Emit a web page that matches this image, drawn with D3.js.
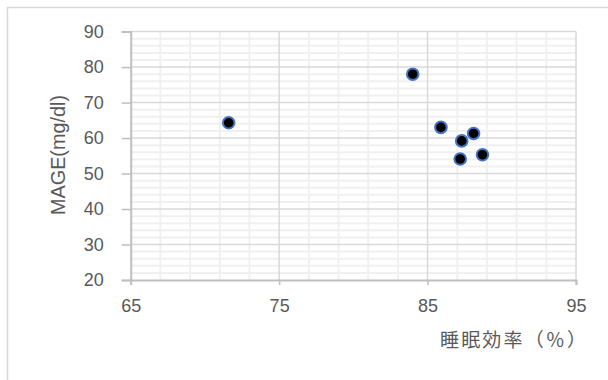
<!DOCTYPE html>
<html><head><meta charset="utf-8">
<script src="https://cdn.jsdelivr.net/npm/d3@7"></script>
<style>body{margin:0;background:#fff;}svg{display:block;}</style>
</head><body>
<svg id="c" width="608" height="380"></svg>
<script>
const sleepEff = [71.6, 84.0, 85.9, 87.3, 88.1, 87.2, 88.7];
const mageVals = [64.3, 78.0, 63.0, 59.2, 61.3, 54.1, 55.3];
const xTicks = [65, 75, 85, 95];
const yTicks = [20, 30, 40, 50, 60, 70, 80, 90];
const xTitle = "睡眠効率（％）";
const yTitle = "MAGE(mg/dl)";

const svg = d3.select("#c");
const L = 130.7, R = 576, T = 31.6, B = 280;
const x = d3.scaleLinear().domain([65, 95]).range([L, R]);
const y = d3.scaleLinear().domain([20, 90]).range([B, T]);

svg.append("rect").attr("x", 7.5).attr("y", 7.5).attr("width", 700).attr("height", 500)
  .attr("fill", "#fff").attr("stroke", "#d9d9d9").attr("stroke-width", 1.5);

const g = svg.append("g");
const xMinor = d3.range(65, 95.01, 2).filter(v => (v - 65) % 10 !== 0);
const yMinor = d3.range(20, 90.01, 2).filter(v => v % 10 !== 0);
g.selectAll(".xm").data(xMinor).enter().append("line")
  .attr("x1", d => x(d)).attr("x2", d => x(d)).attr("y1", T).attr("y2", B)
  .attr("stroke", "#f0f0f0").attr("stroke-width", 2);
g.selectAll(".ym").data(yMinor).enter().append("line")
  .attr("x1", L).attr("x2", R).attr("y1", d => y(d)).attr("y2", d => y(d))
  .attr("stroke", "#f0f0f0").attr("stroke-width", 2);
g.selectAll(".xM").data(xTicks.slice(1)).enter().append("line")
  .attr("x1", d => x(d)).attr("x2", d => x(d)).attr("y1", T).attr("y2", B)
  .attr("stroke", "#d9d9d9").attr("stroke-width", 1.5);
g.selectAll(".yM").data(yTicks.slice(1)).enter().append("line")
  .attr("x1", L).attr("x2", R).attr("y1", d => y(d)).attr("y2", d => y(d))
  .attr("stroke", "#d9d9d9").attr("stroke-width", 1.5);

const xAxis = d3.axisBottom(x).tickValues(xTicks).tickSize(5).tickPadding(14);
const yAxis = d3.axisLeft(y).tickValues(yTicks).tickSize(9).tickPadding(18);
const gx = svg.append("g").attr("transform", `translate(0,${B})`).call(xAxis);
const gy = svg.append("g").attr("transform", `translate(${L},0)`).call(yAxis);
[gx, gy].forEach(a => {
  a.select(".domain").attr("stroke", "#bfbfbf").attr("stroke-width", 2);
  a.selectAll(".tick line").attr("stroke", "#bfbfbf").attr("stroke-width", 1.5);
  a.selectAll(".tick text").attr("fill", "#595959")
    .style("font-family", "'Liberation Sans', Arial, sans-serif").style("font-size", "18px");
});

svg.append("g").selectAll("circle").data(sleepEff.map((v, i) => [v, mageVals[i]])).enter()
  .append("circle").attr("cx", d => x(d[0])).attr("cy", d => y(d[1])).attr("r", 5.8)
  .attr("fill", "#000").attr("stroke", "#4472C4").attr("stroke-width", 2);

svg.append("text").attr("transform", "translate(65,155) rotate(-90)")
  .attr("text-anchor", "middle").attr("fill", "#595959")
  .style("font-family", "'Liberation Sans', Arial, sans-serif").style("font-size", "20px")
  .attr("textLength", 120).attr("lengthAdjust", "spacingAndGlyphs")
  .text(yTitle);
svg.append("text").attr("x", 440).attr("y", 347)
  .attr("fill", "#595959")
  .style("font-family", "'Noto Sans CJK JP', sans-serif").style("font-size", "19px")
  .attr("textLength", 146).attr("lengthAdjust", "spacing")
  .text(xTitle);
</script>
</body></html>
